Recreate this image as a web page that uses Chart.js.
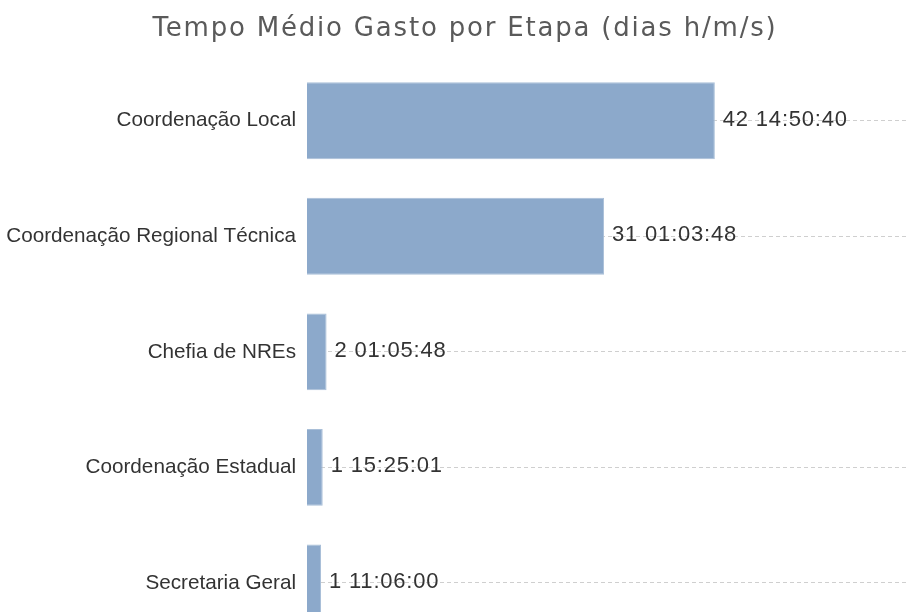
<!DOCTYPE html>
<html>
<head>
<meta charset="utf-8">
<script src="https://cdn.jsdelivr.net/npm/chart.js@4"></script>
<style>
  html, body { margin: 0; padding: 0; background: #fff; overflow: hidden; }
</style>
</head>
<body>
<canvas id="etapasChart" width="907" height="664"></canvas>
<script>
const titulo = 'Tempo Médio Gasto por Etapa (dias h/m/s)';
const etapas = [
  'Coordenação Local',
  'Coordenação Regional Técnica',
  'Chefia de NREs',
  'Coordenação Estadual',
  'Secretaria Geral'
];
// tempo médio por etapa, "dias hh:mm:ss"
const tempos = ['42 14:50:40', '31 01:03:48', '2 01:05:48', '1 15:25:01', '1 11:06:00'];

const toDays = (t) => {
  const [d, hms] = t.split(' ');
  const [h, m, s] = hms.split(':').map(Number);
  return Number(d) + (h * 3600 + m * 60 + s) / 86400;
};
const dias = tempos.map(toDays);

// title drawn by hand so the letter spacing can match
const tituloPlugin = {
  id: 'tituloPlugin',
  afterDraw(chart) {
    const ctx = chart.ctx;
    ctx.save();
    ctx.font = '26px "DejaVu Sans", Verdana, sans-serif';
    ctx.letterSpacing = '1.8px';
    ctx.fillStyle = '#5a5a5a';
    ctx.textAlign = 'center';
    ctx.textBaseline = 'alphabetic';
    ctx.fillText(titulo, 465, 36);
    ctx.restore();
  }
};

// write the "d hh:mm:ss" text just past the end of each bar
const valueLabels = {
  id: 'valueLabels',
  afterDatasetsDraw(chart) {
    const ctx = chart.ctx;
    const meta = chart.getDatasetMeta(0);
    ctx.save();
    ctx.font = '22px "Liberation Sans", Arial, sans-serif';
    ctx.letterSpacing = '0.8px';
    ctx.fillStyle = '#333';
    ctx.textAlign = 'left';
    ctx.textBaseline = 'middle';
    meta.data.forEach((bar, i) => {
      ctx.fillText(tempos[i], bar.x + 8, bar.y - 1);
    });
    ctx.restore();
  }
};

new Chart(document.getElementById('etapasChart').getContext('2d'), {
  type: 'bar',
  data: {
    labels: etapas,
    datasets: [{
      data: dias,
      backgroundColor: '#8ca9cb',
      borderColor: '#a9bfd8',
      borderWidth: 1,
      barPercentage: 0.665,
      categoryPercentage: 1
    }]
  },
  options: {
    indexAxis: 'y',
    responsive: false,
    animation: false,
    layout: { padding: { top: 63 } },
    scales: {
      x: { display: false, min: 0, max: 62.7 },
      y: {
        afterFit: (scale) => { scale.width = 307; },
        border: { display: false, dash: [4, 3] },
        grid: { offset: false, drawTicks: false, color: '#cfcfcf' },
        ticks: {
          padding: 11,
          color: '#333',
          font: { family: '"Liberation Sans", Arial, sans-serif', size: 20.7 }
        }
      }
    },
    plugins: {
      legend: { display: false },
      tooltip: { enabled: false },
      title: { display: false }
    }
  },
  plugins: [tituloPlugin, valueLabels]
});
</script>
</body>
</html>
